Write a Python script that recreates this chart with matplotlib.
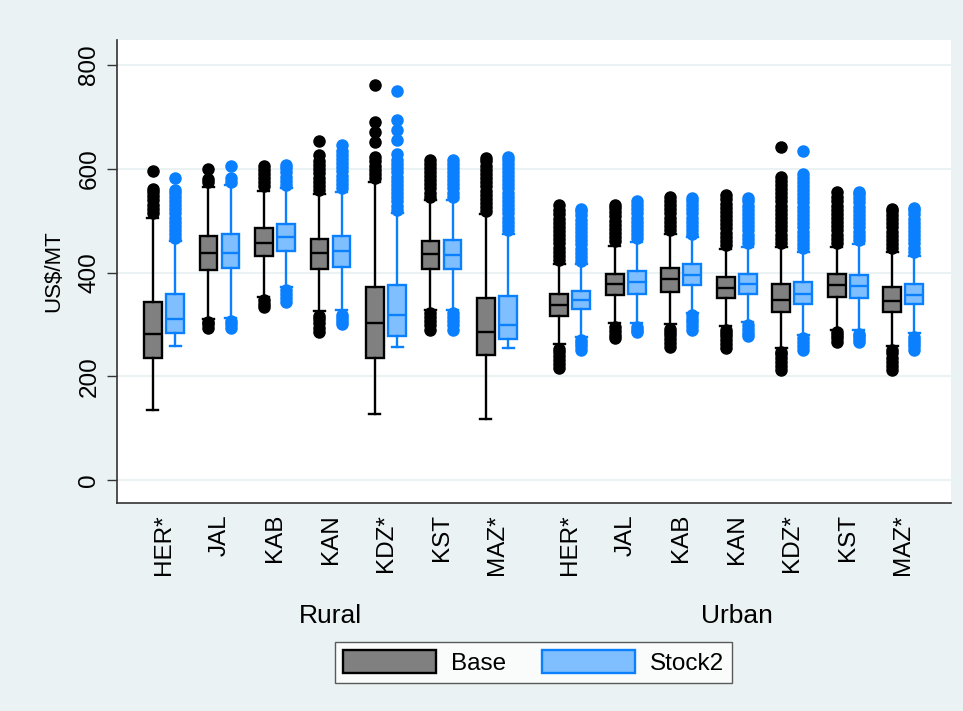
import matplotlib
matplotlib.use("Agg")
import matplotlib.pyplot as plt
from matplotlib.patches import Patch

plt.rcParams['font.family'] = ['Liberation Sans', 'DejaVu Sans']

regions = ["Rural", "Urban"]
markets = ["HER*", "JAL", "KAB", "KAN", "KDZ*", "KST", "MAZ*"]
series_names = ["Base", "Stock2"]

# Base: Rural (7) then Urban (7)
base_q1 = [236, 405, 432, 406, 234.5, 406, 241, 316, 357, 362, 350, 324.5, 352, 323]
base_med = [282, 437, 457.5, 437.6, 302, 435, 286, 337, 377, 387.5, 371, 347, 376, 345]
base_q3 = [343.7, 471, 486, 464.6, 372, 461, 351.5, 358, 398, 409, 392, 377, 396.5, 372]
base_lo = [135, 310, 352, 325, 126.6, 328, 117, 262, 303, 300, 297, 255, 290, 258]
base_hi = [505, 565, 558, 552, 575, 540, 512, 416, 452, 475, 445, 450, 450, 440]
base_out = [
    [515, 523, 531, 539, 547, 555, 561, 596],
    [293, 300, 305, 574, 580, 600],
    [334, 340, 347, 566, 574, 582, 590, 598, 606],
    [286, 294, 302, 310, 316, 559, 567, 575, 583, 591, 599, 607, 615, 626, 654],
    [582, 590, 598, 606, 614, 623, 652, 671, 691, 761],
    [290, 298, 306, 314, 321, 546, 554, 562, 570, 578, 586, 594, 602, 610, 616],
    [518, 526, 534, 542, 550, 558, 566, 574, 582, 590, 598, 606, 614, 620],
    [216, 224, 232, 240, 246, 252, 424, 432, 440, 448, 456, 464, 472, 480, 488, 496, 504, 512, 520, 530],
    [273, 280, 288, 295, 460, 468, 476, 484, 492, 500, 508, 516, 524, 531],
    [257, 264, 272, 280, 286, 292, 482, 490, 498, 506, 514, 522, 530, 538, 546],
    [255, 262, 270, 278, 284, 289, 453, 461, 469, 477, 485, 493, 501, 509, 517, 525, 533, 541, 549],
    [212, 220, 228, 236, 242, 247, 457, 465, 473, 481, 489, 497, 505, 513, 521, 529, 537, 545, 553, 561, 569, 577, 584, 642],
    [267, 274, 280, 285, 457, 465, 473, 481, 489, 497, 505, 513, 521, 529, 537, 545, 555],
    [212, 220, 228, 236, 244, 250, 447, 455, 463, 471, 479, 487, 495, 503, 511, 519, 523],
]

# Stock2: Rural (7) then Urban (7)
stock_q1 = [282.8, 408, 442, 410, 278, 406.7, 272, 329.6, 358.5, 376, 358, 338.6, 351.5, 338.6]
stock_med = [310, 438, 469, 442, 318, 433.7, 299, 347, 381, 395, 378, 358.5, 374.6, 356.6]
stock_q3 = [358, 473.5, 493, 471, 376, 462.7, 355, 365, 403, 416, 397, 381, 395, 377]
stock_lo = [258, 313, 372, 328, 257, 328, 254.5, 276, 302, 322, 305, 280, 289, 284]
stock_hi = [460, 568, 562, 556, 514, 540, 475, 416, 458, 468, 450, 440, 455, 432]
stock_out = [
    [466, 474, 482, 490, 498, 506, 514, 522, 530, 538, 546, 554, 559, 583],
    [293, 300, 306, 575, 583, 606],
    [344, 350, 358, 366, 569, 577, 585, 593, 601, 607],
    [300, 306, 312, 319, 563, 571, 579, 587, 595, 603, 611, 619, 627, 635, 645],
    [521, 529, 537, 545, 553, 561, 569, 577, 585, 593, 601, 609, 617, 629, 655, 675, 694, 750],
    [290, 298, 306, 314, 321, 546, 554, 562, 570, 578, 586, 594, 602, 610, 616],
    [482, 490, 498, 506, 514, 522, 530, 538, 546, 554, 562, 570, 578, 586, 594, 602, 610, 616, 623],
    [251, 258, 264, 270, 422, 430, 438, 446, 454, 462, 470, 478, 486, 494, 502, 510, 518, 522],
    [286, 290, 295, 466, 474, 482, 490, 498, 506, 514, 522, 530, 537],
    [290, 297, 304, 311, 318, 474, 482, 490, 498, 506, 514, 522, 530, 538, 544],
    [277, 284, 291, 298, 457, 465, 473, 481, 489, 497, 505, 513, 521, 529, 537, 543],
    [251, 258, 266, 273, 447, 455, 463, 471, 479, 487, 495, 503, 511, 519, 527, 535, 543, 551, 559, 567, 575, 583, 589, 635],
    [267, 272, 277, 282, 463, 471, 479, 487, 495, 503, 511, 519, 527, 535, 543, 551, 555],
    [251, 258, 265, 270, 276, 440, 448, 456, 464, 472, 480, 488, 496, 504, 512, 520, 525],
]

y_ticks = [0, 200, 400, 600, 800]

BG = '#EAF2F3'
BASE_FILL, BASE_EDGE = '#808080', '#000000'
STOCK_FILL, STOCK_EDGE = '#80BFFF', '#0A80FF'
FS = 17.5

fig = plt.figure(figsize=(9.63, 7.11), dpi=100, facecolor=BG)
ax = fig.add_axes([117 / 963, 1 - 503 / 711, (951 - 117) / 963, (503 - 40) / 711])
ax.set_facecolor('white')

n = len(markets)
gap = 0.32
centers = [i for i in range(n)] + [n + gap + i for i in range(n)]
off = 0.2


def make_stats(q1, med, q3, lo, hi, out):
    return [dict(q1=a, med=b, q3=c, whislo=d, whishi=e, fliers=f)
            for a, b, c, d, e, f in zip(q1, med, q3, lo, hi, out)]


def draw(stats, pos, fill, edge):
    ax.bxp(stats, positions=pos, widths=0.32, patch_artist=True,
           showfliers=True, capwidths=0.2,
           boxprops=dict(facecolor=fill, edgecolor=edge, linewidth=1.7),
           medianprops=dict(color=edge, linewidth=1.7),
           whiskerprops=dict(color=edge, linewidth=1.7),
           capprops=dict(color=edge, linewidth=1.7),
           flierprops=dict(marker='o', markersize=8, markerfacecolor=edge,
                           markeredgecolor=edge, linestyle='none'),
           manage_ticks=False, zorder=3)


draw(make_stats(base_q1, base_med, base_q3, base_lo, base_hi, base_out),
     [c - off for c in centers], BASE_FILL, BASE_EDGE)
draw(make_stats(stock_q1, stock_med, stock_q3, stock_lo, stock_hi, stock_out),
     [c + off for c in centers], STOCK_FILL, STOCK_EDGE)

ax.set_xlim(-0.847, 14.18)
ax.set_ylim(-44.3, 848.2)

ax.set_yticks(y_ticks)
ax.set_yticklabels([str(v) for v in y_ticks], rotation=90, va='center', fontsize=FS)
ax.tick_params(axis='y', length=7, width=1, pad=5, color='#333333')
ax.yaxis.grid(True, color=BG, linewidth=1.5, zorder=0)
ax.set_axisbelow(True)

ax.set_xticks(centers)
ax.set_xticklabels(markets * 2, rotation=90, fontsize=FS, va='top', ha='center')
ax.tick_params(axis='x', length=0, pad=8)

for s in ['top', 'right']:
    ax.spines[s].set_visible(False)
for s in ['left', 'bottom']:
    ax.spines[s].set_color('#333333')
    ax.spines[s].set_linewidth(1.2)

ax.set_ylabel("US$/MT", fontsize=16)
ax.yaxis.set_label_coords((64 - 117) / 834, 0.5)

# group labels
for r, idx in zip(regions, [0, n]):
    xc = (centers[idx] + centers[idx + n - 1]) / 2
    ax.text(xc, -0.244, r, transform=ax.get_xaxis_transform(), ha='center', va='center',
            fontsize=19)

handles = [Patch(facecolor=BASE_FILL, edgecolor=BASE_EDGE, linewidth=1.7),
           Patch(facecolor=STOCK_FILL, edgecolor=STOCK_EDGE, linewidth=1.7)]
leg = fig.legend(handles, series_names, loc='center', bbox_to_anchor=(533.5 / 963, 1 - 662.5 / 711),
                 ncol=2, fontsize=FS, frameon=True, fancybox=False, edgecolor='#333333',
                 handlelength=3.8, handleheight=1.05, handletextpad=0.62, columnspacing=1.5,
                 borderpad=0.35)
leg.get_frame().set_linewidth(1.0)

fig.savefig("out.png", dpi=100, facecolor=BG)
